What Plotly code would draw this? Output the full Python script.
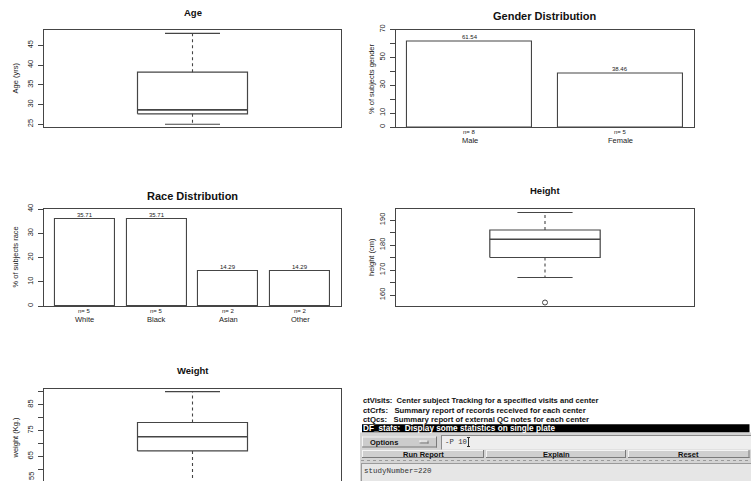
import plotly.graph_objects as go

W, H = 751, 481

# ---------------- data ----------------
# boxplot stats: lower whisker, Q1, median, Q3, upper whisker
age_stats = [25, 27.65, 28.65, 38.2, 48]
height_stats = [167, 175, 182.3, 186, 193]
height_outliers = [157]
weight_stats = [55, 67.1, 72.6, 78.1, 90]

gender_cats = ["Male", "Female"]
gender_n = [8, 5]
gender_pct = [61.54, 38.46]

race_cats = ["White", "Black", "Asian", "Other"]
race_n = [5, 5, 2, 2]
race_pct = [35.71, 35.71, 14.29, 14.29]

age_ticks = [25, 30, 35, 40, 45]
age_ticklabels = ["25", "30", "35", "40", "45"]
gender_ticks = [0, 10, 20, 30, 40, 50, 60, 70]
gender_ticklabels = ["0", "10", "", "30", "", "50", "", "70"]
race_ticks = [0, 10, 20, 30, 40]
race_ticklabels = ["0", "10", "20", "30", "40"]
height_ticks = [160, 165, 170, 175, 180, 185, 190]
height_ticklabels = ["160", "", "170", "", "180", "", "190"]
weight_ticks = [55, 60, 65, 70, 75, 80, 85, 90]
weight_ticklabels = ["55", "", "65", "", "75", "", "85", ""]

gui_lines = [("ctVisits:", 2, "Center subject Tracking for a specified visits and center"),
             ("ctCrfs:", 3, "Summary report of records received for each center"),
             ("ctQcs:", 3, "Summary report of external QC notes for each center")]
gui_selected = ("DF_stats:", 2, "Display some statistics on single plate")
gui_buttons = ["Run Report", "Explain", "Reset"]
gui_option_label = "Options"
gui_option_value = "-P 10"
gui_output = "studyNumber=220"

# ---------------- helpers ----------------
FONT = "Liberation Sans"
MONO = "Liberation Mono"
LC = "#454545"
NB = "\u00a0"


def px(x):
    return x / W


def py(y):
    return 1 - y / H


def dom_x(a, b):
    return [px(a), px(b)]


def dom_y(top, bottom):
    return [max(0.0, py(bottom)), py(top)]


fig = go.Figure()
annotations = []
shapes = []


def add_box(stats, xa, ya, outliers=None):
    lo, q1, med, q3, hi = stats
    c, hw, cw = 1.0, 0.2, 0.1
    fig.add_trace(go.Scatter(x=[c - hw, c + hw, c + hw, c - hw, c - hw], y=[q1, q1, q3, q3, q1],
                             mode="lines", line=dict(color=LC, width=1.2), xaxis=xa, yaxis=ya,
                             showlegend=False, hoverinfo="skip"))
    fig.add_trace(go.Scatter(x=[c - hw, c + hw], y=[med, med], mode="lines",
                             line=dict(color=LC, width=1.6), xaxis=xa, yaxis=ya,
                             showlegend=False, hoverinfo="skip"))
    fig.add_trace(go.Scatter(x=[c, c, None, c, c], y=[q3, hi, None, q1, lo], mode="lines",
                             line=dict(color=LC, width=1.1, dash="3px,3px"), xaxis=xa, yaxis=ya,
                             showlegend=False, hoverinfo="skip"))
    fig.add_trace(go.Scatter(x=[c - cw, c + cw, None, c - cw, c + cw], y=[hi, hi, None, lo, lo],
                             mode="lines", line=dict(color=LC, width=1.2), xaxis=xa, yaxis=ya,
                             showlegend=False, hoverinfo="skip"))
    if outliers:
        fig.add_trace(go.Scatter(x=[c] * len(outliers), y=outliers, mode="markers",
                                 marker=dict(symbol="circle-open", size=5, color=LC, line=dict(width=1)),
                                 xaxis=xa, yaxis=ya, showlegend=False, hoverinfo="skip"))


def add_bars(cats, pct, ns, xa, ya, ylab_y1, ylab_y2):
    fig.add_trace(go.Bar(x=cats, y=pct, width=1 / 1.2, marker=dict(color="white", line=dict(color=LC, width=1.1)),
                         xaxis=xa, yaxis=ya, showlegend=False, hoverinfo="skip"))
    for c, v, n in zip(cats, pct, ns):
        annotations.append(dict(x=c, y=v, xref=xa, yref=ya, text=f"{v:.2f}", showarrow=False,
                                yanchor="bottom", yshift=-1, font=dict(family=FONT, size=6, color="#222")))
        annotations.append(dict(x=c, y=py(ylab_y1), xref=xa, yref="paper", text=f"n= {n}", showarrow=False,
                                yanchor="middle", font=dict(family=FONT, size=6, color="#222")))
        annotations.append(dict(x=c, y=py(ylab_y2), xref=xa, yref="paper", text=c, showarrow=False,
                                yanchor="middle", font=dict(family=FONT, size=7.5, color="#222")))


add_box(age_stats, "x", "y")
add_bars(gender_cats, gender_pct, gender_n, "x2", "y2", 131.5, 140)
add_bars(race_cats, race_pct, race_n, "x3", "y3", 311, 319.5)
add_box(height_stats, "x4", "y4", height_outliers)
add_box(weight_stats, "x5", "y5")

yaxis_common = dict(showgrid=False, zeroline=False, showline=True, mirror=True, linecolor=LC, linewidth=1,
                    ticks="outside", ticklen=5, tickcolor=LC, tickwidth=1, tickangle=-90, automargin=False,
                    tickfont=dict(family=FONT, size=7.5, color="#222"), ticklabelstandoff=2)
xaxis_common = dict(showgrid=False, zeroline=False, showline=True, mirror=True, linecolor=LC, linewidth=1,
                    showticklabels=False, ticks="", fixedrange=True, automargin=False)

layout_axes = {}
layout_axes["xaxis"] = dict(xaxis_common, domain=dom_x(44, 341), range=[0.46, 1.54], anchor="y")
layout_axes["yaxis"] = dict(yaxis_common, domain=dom_y(29.5, 127), range=[24.3, 49.0], anchor="x",
                            tickvals=age_ticks, ticktext=age_ticklabels)
layout_axes["xaxis2"] = dict(xaxis_common, domain=dom_x(396, 694), range=[-0.49, 1.49], anchor="y2",
                             type="category")
layout_axes["yaxis2"] = dict(yaxis_common, domain=dom_y(29.5, 127), range=[0, 70], anchor="x2",
                             tickvals=gender_ticks, ticktext=gender_ticklabels)
layout_axes["xaxis3"] = dict(xaxis_common, domain=dom_x(44, 341), range=[-0.57, 3.57], anchor="y3",
                             type="category")
layout_axes["yaxis3"] = dict(yaxis_common, domain=dom_y(209, 306), range=[0, 40], anchor="x3",
                             tickvals=race_ticks, ticktext=race_ticklabels)
layout_axes["xaxis4"] = dict(xaxis_common, domain=dom_x(396, 694), range=[0.46, 1.54], anchor="y4")
layout_axes["yaxis4"] = dict(yaxis_common, domain=dom_y(209, 306), range=[155.6, 194.4], anchor="x4",
                             tickvals=height_ticks, ticktext=height_ticklabels)
layout_axes["xaxis5"] = dict(xaxis_common, domain=dom_x(44, 341), range=[0.46, 1.54], anchor="y5",
                             side="top", mirror=False)
layout_axes["yaxis5"] = dict(yaxis_common, domain=dom_y(389, 481), range=[55.48, 91.04], anchor="x5",
                             tickvals=weight_ticks, ticktext=weight_ticklabels)

# the "55" label of the weight axis sits at the window's bottom edge
annotations.append(dict(x=px(31.5), y=py(476.4), xref="paper", yref="paper", text=weight_ticklabels[0],
                        showarrow=False, textangle=-90, xanchor="center", yanchor="middle",
                        font=dict(family=FONT, size=7.5, color="#222")))

# titles
titles = [("Age", 192.5, 12, 9.5), ("Gender Distribution", 545, 16, 11),
          ("Race Distribution", 192.5, 195.5, 11), ("Height", 545, 190.5, 9.5),
          ("Weight", 192.5, 370.5, 9.5)]
for t, x, y, s in titles:
    annotations.append(dict(x=px(x), y=py(y), xref="paper", yref="paper", text=f"<b>{t}</b>", showarrow=False,
                            xanchor="center", yanchor="middle", font=dict(family=FONT, size=s, color="#111")))

ylabels = [("Age (yrs)", 15, 78.5), ("% of subjects gender", 371.5, 78.5), ("% of subjects race", 15, 257.5),
           ("height (cm)", 371.5, 257.5), ("weight (Kg.)", 15, 437.5)]
for t, x, y in ylabels:
    annotations.append(dict(x=px(x), y=py(y), xref="paper", yref="paper", text=t, showarrow=False,
                            textangle=-90, xanchor="center", yanchor="middle",
                            font=dict(family=FONT, size=7.5, color="#222")))

# ---------------- GUI screenshot panel ----------------
def rect(x0, y0, x1, y1, fill, line=None, lw=1):
    shapes.append(dict(type="rect", xref="paper", yref="paper", x0=px(x0), x1=px(x1), y0=py(y1), y1=py(y0),
                       fillcolor=fill, line=dict(color=line or fill, width=lw if line else 0), layer="above"))


def hline(x0, x1, y, color, lw=1, dash=None):
    shapes.append(dict(type="line", xref="paper", yref="paper", x0=px(x0), x1=px(x1), y0=py(y), y1=py(y),
                       line=dict(color=color, width=lw, dash=dash or "solid"), layer="above"))


def vline(x, y0, y1, color, lw=1):
    shapes.append(dict(type="line", xref="paper", yref="paper", x0=px(x), x1=px(x), y0=py(y0), y1=py(y1),
                       line=dict(color=color, width=lw), layer="above"))


def bevel(x0, y0, x1, y1, fill):
    rect(x0, y0, x1, y1, fill)
    hline(x0, x1, y0 + 0.5, "#f4f4f4")
    vline(x0 + 0.5, y0, y1, "#f4f4f4")
    hline(x0, x1, y1 - 0.5, "#7a7a7a")
    vline(x1 - 0.5, y0, y1, "#7a7a7a")


def gtext(t, x, y, anchor="left", size=7.9, color="#111", family=FONT, bold=True):
    annotations.append(dict(x=px(x), y=py(y), xref="paper", yref="paper", text=f"<b>{t}</b>" if bold else t,
                            showarrow=False, xanchor=anchor, yanchor="middle", borderpad=0,
                            font=dict(family=family, size=size, color=color)))


rect(360, 394, 751, 432.5, "white")
line_y = [400.7, 410, 419.3]
line_sizes = [7.6, 7.75, 7.75]
for (k, nsp, d), yy, sz in zip(gui_lines, line_y, line_sizes):
    gtext(k + NB * nsp + d, 361.5, yy, size=sz)
rect(362, 424.3, 749.5, 432.5, "#000000")
gtext(gui_selected[0] + NB * gui_selected[1] + gui_selected[2], 361.5, 428.4, color="white", size=8.2)

rect(360, 432.5, 751, 481, "#d4d4d4")
bevel(362, 436.5, 437, 447.5, "#cccccc")
gtext(gui_option_label, 384, 442, anchor="center", size=7.5)
bevel(419.5, 440.5, 428.5, 443.5, "#cccccc")
rect(441, 435, 751, 449.5, "#eeeeee")
hline(441, 751, 435.5, "#8a8a8a")
vline(441.5, 435, 449.5, "#8a8a8a")
gtext(gui_option_value, 444, 442.3, size=7.3, color="#333", family=MONO, bold=False)
vline(468.5, 437.5, 446.5, "#333333")
hline(467, 470, 437.5, "#333333")
hline(467, 470, 446.5, "#333333")

btn_edges = [(362, 484), (486, 626), (628, 749.5)]
for (a, b), lab in zip(btn_edges, gui_buttons):
    bevel(a, 450, b, 458, "#cfcfcf")
    gtext(lab, (a + b) / 2, 454, anchor="center", size=7.5)
hline(361, 751, 460.5, "#9a9a9a", dash="dot")
rect(361, 463, 751, 481, "#e6e6e6")
hline(361, 751, 463.5, "#9a9a9a")
vline(361.5, 463, 481, "#9a9a9a")
gtext(gui_output, 362.5, 471, size=7.5, color="#333", family=MONO, bold=False)

fig.update_layout(template="none", width=W, height=H, margin=dict(l=0, r=0, t=0, b=0, pad=0),
                  paper_bgcolor="white", plot_bgcolor="white", annotations=annotations, shapes=shapes,
                  showlegend=False, bargap=0, **layout_axes)

fig.write_html("out.html")
